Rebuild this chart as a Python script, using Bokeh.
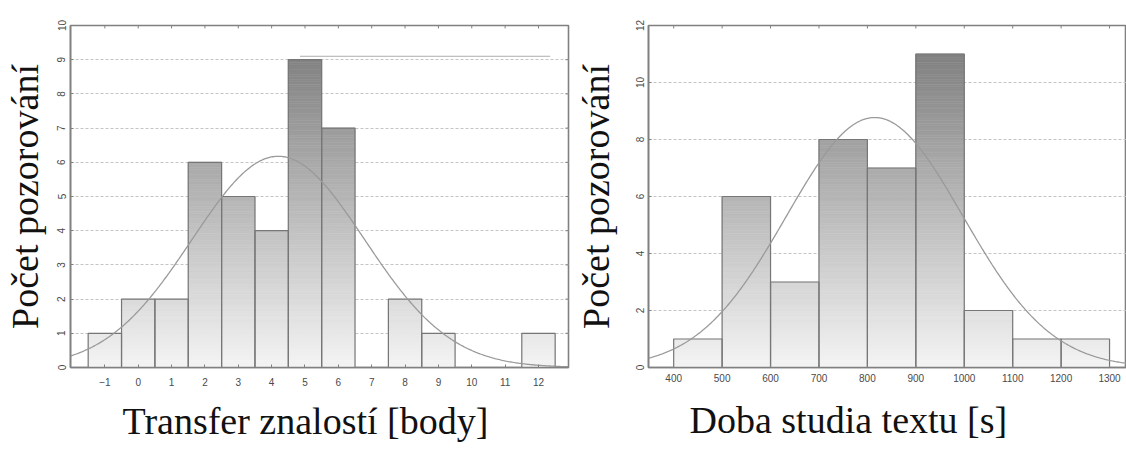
import math
import numpy as np
from bokeh.plotting import figure
from bokeh.layouts import row
from bokeh.models import FixedTicker, Range1d, ColumnDataSource, Title
from bokeh.embed import file_html
from bokeh.resources import INLINE

# Transfer znalostí [body] – one bin per integer score
transfer_scores = [-1, 0, 1, 2, 3, 4, 5, 6, 7, 8, 9, 10, 11, 12]
transfer_counts = [1, 2, 2, 6, 5, 4, 9, 7, 0, 2, 1, 0, 0, 1]
transfer_yticks = list(range(0, 11))

# Doba studia textu [s] – bins of 100 s
study_edges = [400, 500, 600, 700, 800, 900, 1000, 1100, 1200, 1300]
study_counts = [1, 6, 3, 8, 7, 11, 2, 1, 1]
study_yticks = list(range(0, 13, 2))

y_title = "Počet pozorování"
transfer_title = "Transfer znalostí [body]"
study_title = "Doba studia textu [s]"

AXIS_GREY = "#808080"
TICK_TEXT = "#4a4a4a"


def gradient_bars(p, lefts, rights, counts, ymax):
    """Bars shaded dark at the top of the plot, light at the baseline."""
    step = ymax / 140.0
    data = dict(left=[], right=[], bottom=[], top=[], color=[])
    for l, r, c in zip(lefts, rights, counts):
        n = int(math.ceil(c / step - 1e-9))
        for k in range(n):
            b = k * step
            t = min((k + 1) * step, c)
            f = (b + t) / 2.0 / ymax
            g = int(round(244 - f * (244 - 118)))
            col = "#%02x%02x%02x" % (g, g, g)
            data["left"].append(l)
            data["right"].append(r)
            data["bottom"].append(b)
            data["top"].append(t)
            data["color"].append(col)
    p.quad(left="left", right="right", bottom="bottom", top="top",
           fill_color="color", line_color="color", line_width=0.6,
           source=ColumnDataSource(data))
    p.quad(left=lefts, right=rights, bottom=[0] * len(counts), top=counts,
           fill_color=None, line_color="#767676", line_width=1.2)


def normal_fit(mids, counts, width, x0, x1):
    mids = np.asarray(mids, float)
    counts = np.asarray(counts, float)
    n = counts.sum()
    mean = (mids * counts).sum() / n
    sd = math.sqrt((counts * (mids - mean) ** 2).sum() / (n - 1))
    xs = np.linspace(x0, x1, 400)
    ys = n * width / (sd * math.sqrt(2 * math.pi)) * np.exp(-0.5 * ((xs - mean) / sd) ** 2)
    return xs, ys


def style_axis(ax, ticks, vertical=False):
    ax.ticker = FixedTicker(ticks=ticks)
    ax.axis_line_color = AXIS_GREY
    ax.axis_line_width = 1.6
    ax.major_tick_line_color = AXIS_GREY
    ax.major_tick_in = 3
    ax.major_tick_out = 0
    ax.minor_tick_line_color = None
    ax.major_label_text_font = "Liberation Sans"
    ax.major_label_text_color = TICK_TEXT
    ax.major_label_text_font_size = "10px"
    if vertical:
        ax.major_label_orientation = "vertical"
    ax.axis_label_text_font = "Liberation Serif"
    ax.axis_label_text_font_size = "38px"
    ax.axis_label_text_font_style = "normal"
    ax.axis_label_text_color = "#111111"


def make_panel(width, xr, yr, xticks, yticks, border, tick_standoff,
               xlabel, xlabel_offset, xlabel_standoff,
               ylabel, ylabel_standoff, right_ticks):
    p = figure(width=width, height=454, x_range=xr, y_range=yr,
               output_backend="svg", toolbar_location=None,
               min_border_left=border[0], min_border_right=border[1],
               min_border_top=border[2], min_border_bottom=border[3])
    p.outline_line_color = AXIS_GREY
    p.outline_line_width = 1.6
    p.background_fill_color = "white"
    p.border_fill_color = "white"
    p.xgrid.visible = False
    p.ygrid.ticker = FixedTicker(ticks=yticks)
    p.ygrid.grid_line_color = "#c4c4c4"
    p.ygrid.grid_line_dash = "3 2"
    p.ygrid.grid_line_width = 1

    bx = p.xaxis[0]
    ly = p.yaxis[0]
    style_axis(bx, xticks)
    style_axis(ly, yticks, vertical=True)
    bx.major_label_standoff = tick_standoff
    ly.major_label_standoff = 5
    ly.axis_label = ylabel
    ly.axis_label_standoff = ylabel_standoff

    # x title below the tick labels
    p.add_layout(Title(text=xlabel, align="left", offset=xlabel_offset,
                       standoff=xlabel_standoff, vertical_align="bottom",
                       text_font="Liberation Serif",
                       text_font_size="38px", text_font_style="normal",
                       text_color="#111111"), "below")

    # small inward ticks along the top edge (and the right edge)
    x0, x1 = xr.start, xr.end
    y0, y1 = yr.start, yr.end
    tick_y = 3.0 * (y1 - y0) / (454 - border[2] - border[3])
    p.segment(x0=xticks, y0=[y1] * len(xticks), x1=xticks,
              y1=[y1 - tick_y] * len(xticks), line_color=AXIS_GREY, line_width=1)
    if right_ticks:
        tick_x = 3.0 * (x1 - x0) / (width - border[0] - border[1])
        p.segment(x0=[x1] * len(yticks), y0=yticks, x1=[x1 - tick_x] * len(yticks),
                  y1=yticks, line_color=AXIS_GREY, line_width=1)
    return p


# --- left panel: knowledge transfer -------------------------------------
p1 = make_panel(570, Range1d(-2.03, 12.9), Range1d(0, 10),
                transfer_scores, transfer_yticks, (68, 2, 18, 84), 10,
                transfer_title, 52, 19, y_title, 9, True)
t_left = [s - 0.5 for s in transfer_scores]
t_right = [s + 0.5 for s in transfer_scores]
gradient_bars(p1, t_left, t_right, transfer_counts, 10)
xs, ys = normal_fit(transfer_scores, transfer_counts, 1.0, -2.03, 12.9)
p1.line(xs, ys, line_color="#9a9a9a", line_width=1.3)
# thin rule running right of the tallest bar
p1.segment(x0=[4.85], y0=[9.1], x1=[12.35], y1=[9.1],
           line_color="#adadad", line_width=1)

# --- right panel: study time ------------------------------------------
p2 = make_panel(556, Range1d(348, 1335), Range1d(0, 12),
                study_edges, study_yticks, (78, 0, 25, 87), 6,
                study_title, 41, 24, y_title, 16, False)
s_left = study_edges[:-1]
s_right = study_edges[1:]
s_mid = [(a + b) / 2 for a, b in zip(s_left, s_right)]
gradient_bars(p2, s_left, s_right, study_counts, 12)
xs2, ys2 = normal_fit(s_mid, study_counts, 100.0, 348, 1335)
p2.line(xs2, ys2, line_color="#9a9a9a", line_width=1.3)

layout = row(p1, p2, spacing=0)
open("out.html", "w").write(file_html(layout, INLINE))
